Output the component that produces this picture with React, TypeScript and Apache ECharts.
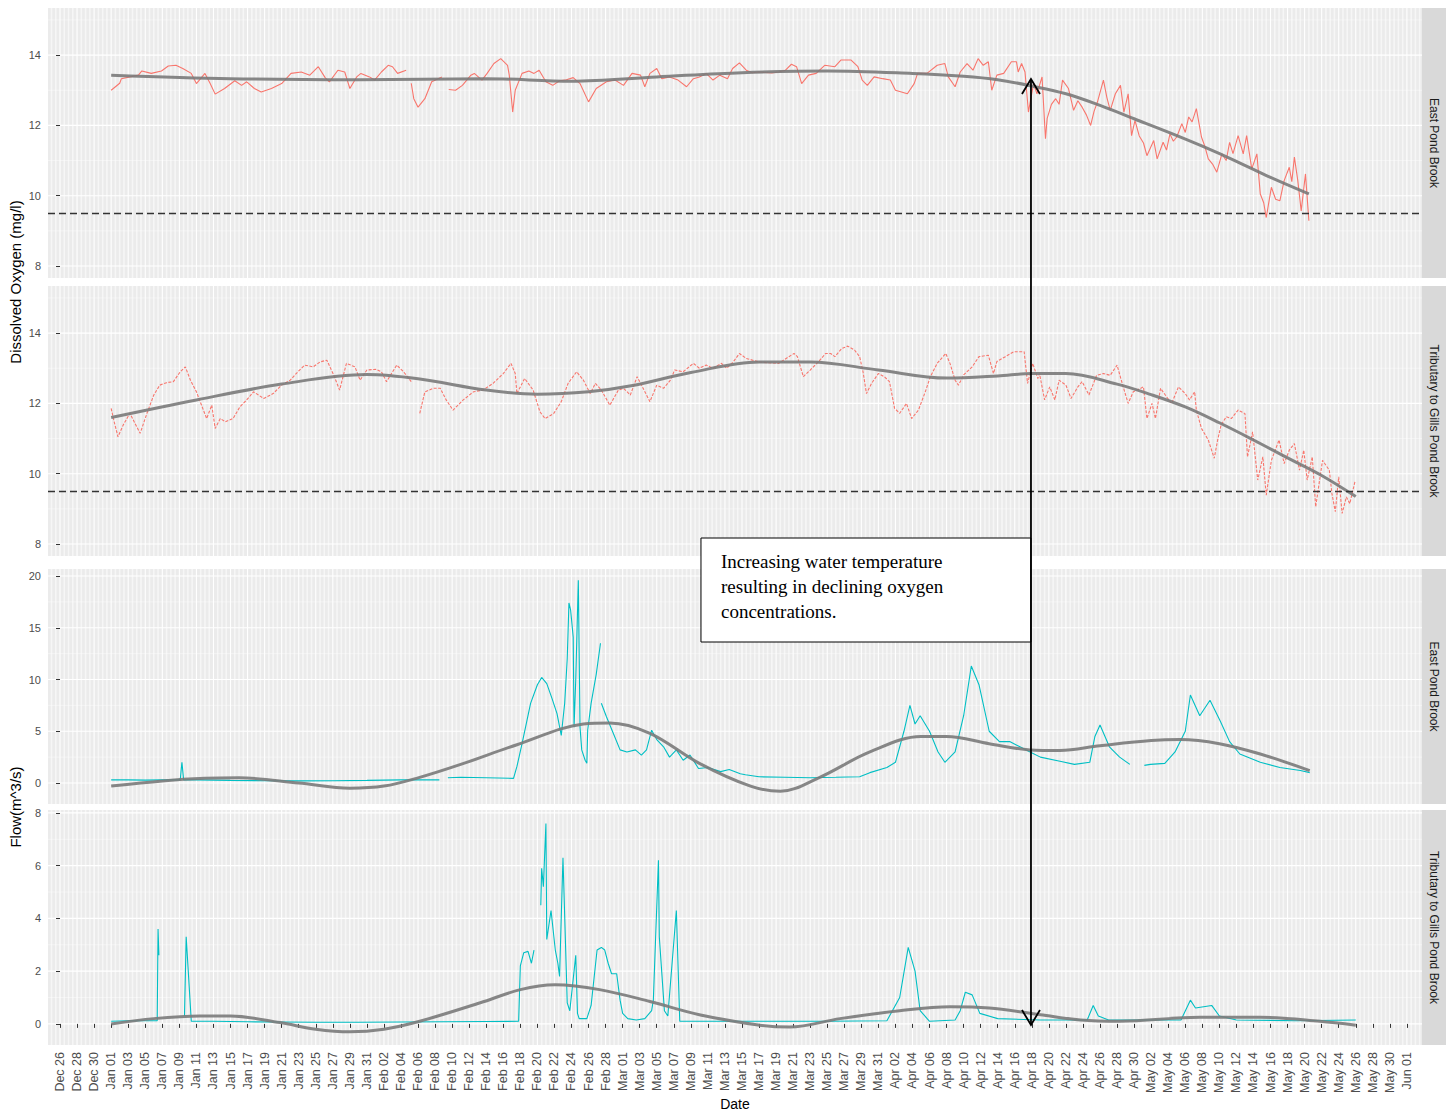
import React, { useEffect, useRef } from 'react';
import * as echarts from 'echarts';

// x values are day offsets counted from 2019-12-26
const DATE_ORIGIN = Date.UTC(2019, 11, 26);
const MONTH_NAMES = ['Jan', 'Feb', 'Mar', 'Apr', 'May', 'Jun', 'Jul', 'Aug', 'Sep', 'Oct', 'Nov', 'Dec'];

const X_MIN = -1.41;
const X_MAX = 159.77;

// tick positions (every 2 days from Dec 26 to Jun 01)
const dateTickDays: number[] = Array.from({ length: 80 }, (_, i) => i * 2);
const minorGridDays: number[] = Array.from({ length: 322 }, (_, i) => -1 + i * 0.5).filter((d) => d % 2 !== 0);

const doTicks = [8, 10, 12, 14];
const doMinor = [9, 11, 13, 15];
const epbFlowTicks = [0, 5, 10, 15, 20];
const epbFlowMinor = [2.5, 7.5, 12.5, 17.5];
const tgpFlowTicks = [0, 2, 4, 6, 8];
const tgpFlowMinor = [1, 3, 5, 7];

const stripLabels = ['East Pond Brook', 'Tributary to Gills Pond Brook', 'East Pond Brook', 'Tributary to Gills Pond Brook'];
const doThreshold = 9.5;

// East Pond Brook dissolved oxygen (mg/l)
const epbDo: (number | null)[][] = [
  [6, 13.0], [7, 13.2], [7.2, 13.33], [8.2, 13.38], [9.2, 13.43], [9.6, 13.55], [10.7, 13.48], [11.9, 13.55], [12.7, 13.69], [13.6, 13.71],
  [14.4, 13.62], [15.4, 13.48], [16, 13.19], [17, 13.48], [17.6, 13.2], [18.2, 12.89], [19.3, 13.05], [20.5, 13.27], [21.3, 13.14], [21.9, 13.24],
  [22.8, 13.05], [23.6, 12.95], [24.8, 13.05], [26, 13.19], [27.1, 13.48], [28.3, 13.52], [29.3, 13.43], [30.3, 13.67], [31.1, 13.36], [31.6, 13.24],
  [32.6, 13.57], [33.4, 13.52], [34, 13.05], [34.8, 13.38], [35.3, 13.48], [36.3, 13.38], [36.9, 13.29], [37.7, 13.52], [38.5, 13.71], [39, 13.67],
  [39.6, 13.48], [40.6, 13.57], [40.9, null], [41.2, 13.2], [41.5, 12.76], [42, 12.52], [42.8, 12.76], [43.6, 13.24], [44.8, 13.38], [45.2, null],
  [45.6, 13.02], [46.4, 13.0], [47.2, 13.14], [48.2, 13.43], [48.6, 13.48], [49.5, 13.29], [50.1, 13.48], [50.9, 13.76], [51.7, 13.9], [52.5, 13.71],
  [52.7, 13.43], [53.1, 12.38], [53.4, 13.0], [54.2, 13.48], [55, 13.55], [55.6, 13.48], [56.2, 13.57], [57, 13.24], [57.8, 13.14], [58.6, 13.27],
  [59.4, 13.3], [60.2, 13.36], [61, 13.19], [62, 12.67], [62.9, 13.05], [64.1, 13.24], [65.1, 13.29], [66.1, 13.14], [67.1, 13.48], [68.1, 13.43],
  [68.6, 13.1], [69.2, 13.48], [70, 13.62], [70.6, 13.33], [71.5, 13.38], [72.5, 13.29], [73.5, 13.1], [74.3, 13.33], [75, 13.38], [75.8, 13.48],
  [76.6, 13.29], [77.4, 13.43], [78.3, 13.33], [78.9, 13.62], [79.7, 13.78], [80.5, 13.57], [81.2, 13.5], [82, 13.52], [83.5, 13.49], [84.3, 13.52],
  [85.1, 13.57], [85.8, 13.74], [86.4, 13.67], [87, 13.19], [87.8, 13.43], [88.7, 13.48], [89.7, 13.71], [90.9, 13.67], [91.6, 13.86], [92.8, 13.86],
  [93.6, 13.67], [94.1, 13.29], [94.7, 13.14], [95.5, 13.38], [96.5, 13.33], [97.4, 13.29], [98, 13.0], [98.7, 12.95], [99.4, 12.9], [100.2, 13.19],
  [100.6, 13.48], [101.7, 13.48], [102.9, 13.71], [103.8, 13.76], [104.2, 13.38], [105, 13.1], [105.6, 13.52], [106.4, 13.76], [107.1, 13.57], [107.7, 13.9],
  [108.3, 13.71], [108.9, 13.81], [109.3, 13.0], [109.9, 13.43], [110.7, 13.48], [111.6, 13.81], [112.2, 13.81], [112.4, 13.52], [112.8, 13.76], [113.2, 13.52],
  [113.6, 12.38], [114.2, 13.19], [114.6, 12.9], [115.2, 13.38], [115.6, 11.62], [115.8, 12.2], [116.3, 12.6], [116.8, 12.76], [117.2, 12.6], [117.6, 13.29],
  [118.3, 13.05], [118.9, 12.43], [119.4, 12.7], [119.9, 12.52], [120.4, 12.3], [120.9, 12.0], [121.3, 12.4], [121.7, 12.67], [122.4, 13.29], [122.8, 12.8],
  [123.2, 12.43], [123.8, 12.9], [124.4, 13.14], [124.8, 12.38], [125.3, 12.9], [125.7, 11.71], [126.1, 12.14], [126.6, 11.7], [127.1, 11.5], [127.5, 11.14],
  [128.3, 11.57], [128.7, 11.05], [129.4, 11.52], [129.8, 11.3], [130.2, 11.76], [130.6, 11.55], [131, 11.67], [131.6, 12.05], [132, 11.8], [132.4, 12.24],
  [132.8, 12.1], [133.3, 12.48], [133.9, 11.67], [134.3, 11.4], [134.7, 11.05], [135.2, 10.9], [135.7, 10.67], [136.3, 11.19], [136.8, 11.0], [137.2, 11.52],
  [137.6, 11.2], [138.2, 11.71], [138.8, 11.19], [139.2, 11.71], [139.8, 10.76], [140.4, 11.19], [140.8, 10.05], [141.2, 9.8], [141.5, 9.38], [142.1, 10.24],
  [142.6, 9.9], [143.1, 9.86], [143.6, 10.43], [144.2, 10.81], [144.5, 10.4], [144.8, 11.1], [145.2, 10.43], [145.6, 9.57], [146.1, 10.62], [146.5, 9.29],
];

// Tributary to Gills Pond Brook dissolved oxygen (mg/l)
const tgpDo: (number | null)[][] = [
  [6, 11.86], [6.3, 11.53], [6.8, 11.05], [7.4, 11.38], [8.2, 11.72], [8.8, 11.43], [9.4, 11.15], [10.2, 11.72], [11, 12.24], [11.7, 12.52],
  [12.5, 12.59], [13.3, 12.62], [14.1, 12.9], [14.7, 13.04], [15.3, 12.66], [16, 12.33], [16.6, 11.95], [17.2, 11.57], [17.8, 11.95], [18.2, 11.29],
  [18.8, 11.57], [19.4, 11.48], [20.3, 11.57], [21.1, 11.9], [21.9, 12.1], [22.7, 12.33], [23.9, 12.14], [25, 12.28], [26, 12.52], [27, 12.66],
  [27.9, 12.9], [28.7, 13.09], [29.7, 13.04], [30.5, 13.18], [31.3, 13.23], [32.1, 12.81], [32.8, 12.38], [33.6, 13.14], [34.6, 13.04], [35.2, 12.66],
  [36, 12.95], [37.1, 12.97], [37.7, 12.9], [38.3, 12.62], [39.5, 13.09], [40.3, 12.9], [41.2, 12.62], [41.6, null], [42.2, 11.72], [42.8, 12.33],
  [43.8, 12.43], [44.6, 12.43], [45.3, 12.1], [46.1, 11.81], [47.3, 12.1], [48.5, 12.33], [49.6, 12.38], [50.8, 12.57], [52, 12.85], [52.9, 13.14],
  [53.4, 12.85], [53.6, 12.28], [54.5, 12.71], [55.5, 12.38], [56.3, 11.76], [56.9, 11.57], [57.9, 11.71], [58.8, 12.05], [59.6, 12.57], [60.6, 12.9],
  [61.4, 12.66], [62.2, 12.28], [62.8, 12.57], [63.5, 12.38], [64.5, 11.95], [65.5, 12.38], [66.1, 12.43], [66.9, 12.24], [67.7, 12.76], [68.4, 12.43],
  [69.2, 12.05], [70, 12.52], [70.8, 12.43], [71.6, 12.66], [72.1, 12.95], [73.1, 12.9], [74.3, 13.14], [75, 13.0], [75.8, 13.09], [76.6, 13.0],
  [77.6, 13.14], [78.2, 13.0], [79, 13.19], [79.7, 13.42], [80.5, 13.28], [82, 13.18], [83.5, 13.15], [84.3, 13.14], [85.5, 13.33], [86.1, 13.42],
  [86.5, 13.33], [87.2, 12.76], [88, 12.95], [89, 13.19], [89.8, 13.42], [90.4, 13.42], [90.9, 13.33], [91.7, 13.56], [92.4, 13.63], [93.2, 13.52],
  [93.8, 13.33], [94.2, 12.9], [94.6, 12.28], [95.2, 12.57], [96, 12.85], [96.7, 12.76], [97.3, 12.62], [97.9, 11.86], [98.5, 11.72], [99.3, 12.0],
  [99.9, 11.57], [100.7, 11.81], [101.5, 12.33], [102.1, 12.76], [102.9, 13.14], [103.9, 13.42], [104.4, 13.14], [105, 12.66], [105.4, 12.52], [106, 12.81],
  [107, 13.04], [107.8, 13.33], [108.9, 13.37], [109.5, 12.85], [109.9, 13.19], [110.9, 13.33], [111.9, 13.47], [113.1, 13.47], [113.5, 12.57], [114.1, 13.14],
  [114.7, 12.71], [114.9, 12.85], [115.5, 12.1], [116.1, 12.47], [116.7, 12.1], [117.2, 12.66], [118, 12.52], [118.6, 12.14], [119.4, 12.47], [119.9, 12.62],
  [120.7, 12.24], [121.6, 12.8], [122.4, 12.85], [123.2, 12.8], [124, 13.09], [124.6, 12.57], [125.3, 12.0], [125.9, 12.33], [127.1, 12.47], [127.5, 11.57],
  [128.1, 12.0], [128.5, 11.57], [129.1, 12.43], [129.8, 12.19], [130.4, 12.0], [131.2, 12.47], [132, 12.28], [132.5, 12.1], [133.1, 12.33], [133.3, 11.81],
  [133.9, 11.29], [134.7, 10.96], [135.4, 10.44], [135.8, 10.96], [136.2, 11.38], [136.8, 11.62], [137.4, 11.57], [138.2, 11.81], [139, 11.71], [139.3, 10.48],
  [139.9, 11.19], [140.5, 9.82], [141.1, 10.48], [141.5, 9.39], [142.1, 10.38], [143, 10.96], [143.6, 10.29], [144.2, 10.67], [144.8, 10.86], [145.4, 10.1],
  [145.9, 10.67], [146.3, 9.82], [146.9, 10.48], [147.3, 9.06], [148.1, 10.38], [148.9, 10.1], [149.2, 9.44], [149.6, 8.92], [150, 9.91], [150.4, 8.87],
  [150.9, 9.34], [151.3, 9.15], [151.9, 9.77],
];

// East Pond Brook flow (m^3/s)
const epbFlow: (number | null)[][] = [
  [6, 0.3], [8, 0.3], [10, 0.28], [12, 0.3], [14.1, 0.3], [14.3, 2.0], [14.5, 0.3], [16, 0.3], [20, 0.25], [24, 0.22],
  [28, 0.2], [32, 0.22], [36, 0.25], [40, 0.3], [44.5, 0.3], [44.8, null], [45.5, 0.5], [47, 0.55], [50, 0.5], [53.2, 0.45],
  [53.6, 1.6], [54.2, 3.8], [55.2, 7.7], [56, 9.5], [56.5, 10.2], [57.1, 9.6], [57.7, 8.2], [58.3, 6.7], [58.8, 4.6], [59.2, 7.7],
  [59.5, 12], [59.7, 17.4], [59.9, 16.7], [60.2, 14.1], [60.3, 5.4], [60.5, 10], [60.8, 19.6], [61, 5.4], [61.2, 3.2], [61.6, 2.2],
  [61.8, 1.9], [61.9, 5.1], [62.3, 7.7], [62.9, 10.5], [63.4, 13.5], [63.45, null], [63.5, 7.7], [64.1, 6.4], [64.9, 4.8], [65.7, 3.2],
  [66.5, 3.0], [67.5, 3.2], [68.2, 2.7], [68.8, 3.2], [69.4, 5.1], [70, 4.2], [70.8, 3.5], [71.5, 2.5], [72.3, 3.2], [73.1, 2.2],
  [73.9, 2.7], [74.9, 1.4], [76, 1.5], [77.5, 1.1], [78.5, 1.3], [79.8, 0.9], [80.4, 0.8], [82, 0.6], [85, 0.55], [88, 0.5],
  [91, 0.55], [93.8, 0.6], [95, 1.0], [97, 1.5], [98, 2.0], [99, 5.0], [99.7, 7.5], [100.3, 5.7], [100.9, 6.5], [102, 5.0],
  [103, 3.0], [103.8, 2.0], [105, 3.0], [106, 6.5], [106.9, 11.3], [107.8, 9.5], [109, 5.0], [110.2, 4.0], [111.4, 4.0], [112.6, 3.5],
  [113.8, 3.0], [115, 2.5], [117.3, 2.1], [119, 1.8], [120.8, 2.0], [121.4, 4.5], [122, 5.6], [123.1, 3.5], [124.3, 2.5], [125.5, 1.8],
  [125.8, null], [127.2, 1.7], [127.9, 1.8], [129.6, 1.9], [130.8, 3.0], [132, 5.0], [132.6, 8.5], [133.7, 6.5], [134.9, 8.0], [136.1, 6.0],
  [137.2, 4.0], [138.4, 2.8], [140.8, 2.0], [143.1, 1.5], [145.5, 1.2], [146.6, 1.0],
];

// Tributary to Gills Pond Brook flow (m^3/s)
const tgpFlow: (number | null)[][] = [
  [6, 0.1], [8, 0.12], [10, 0.12], [11.4, 0.12], [11.5, 3.6], [11.6, 2.6], [11.7, null], [14.6, 0.3], [14.8, 3.3], [15.4, 0.1],
  [18, 0.1], [22, 0.08], [26, 0.07], [30, 0.06], [35, 0.06], [40, 0.07], [45, 0.08], [50, 0.09], [53.8, 0.1], [54, 2.2],
  [54.4, 2.7], [54.9, 2.75], [55.3, 2.3], [55.6, 2.8], [55.7, null], [56.4, 4.5], [56.5, 5.9], [56.7, 5.2], [57, 7.6], [57.1, 3.2],
  [57.6, 4.3], [58.1, 2.8], [58.4, 2.3], [58.6, 1.8], [59, 6.3], [59.2, 4.1], [59.5, 0.8], [59.8, 0.5], [60.5, 2.6], [60.7, 0.4],
  [60.9, 0.2], [61.8, 0.2], [62.3, 0.7], [63, 2.8], [63.5, 2.9], [63.9, 2.8], [64.3, 2.3], [64.7, 1.9], [65.3, 1.9], [65.7, 0.9],
  [66, 0.4], [66.6, 0.2], [67.6, 0.15], [68.6, 0.2], [69.4, 0.5], [69.6, 0.9], [70.2, 6.2], [70.3, 3.3], [70.9, 0.5], [71.3, 0.3],
  [72.3, 4.3], [72.7, 0.1], [74.7, 0.1], [80, 0.1], [90, 0.1], [97, 0.12], [98.5, 1.0], [99.5, 2.9], [100.3, 2.0], [100.9, 0.5],
  [102, 0.1], [105, 0.15], [105.6, 0.5], [106.2, 1.2], [107, 1.1], [107.9, 0.4], [110, 0.2], [115, 0.15], [120.5, 0.15], [121.2, 0.7],
  [121.8, 0.3], [123, 0.15], [131.5, 0.15], [132.6, 0.9], [133.2, 0.6], [135.1, 0.7], [136, 0.3], [138, 0.15], [145, 0.12], [152, 0.15],
];

// loess smooths
const epbDoSmooth = [
  [6, 13.43], [20, 13.33], [35, 13.3], [50, 13.33], [60, 13.26], [70, 13.38], [80, 13.5], [90, 13.55], [100, 13.48], [106, 13.4],
  [110, 13.3], [114, 13.12], [118, 12.9], [122, 12.57], [126, 12.19], [130, 11.81], [134, 11.41], [138, 10.98], [142, 10.52], [146.5, 10.05],
];
const tgpDoSmooth = [
  [6, 11.6], [16, 12.1], [26, 12.55], [36, 12.82], [42, 12.7], [50, 12.38], [56, 12.26], [62, 12.33], [67, 12.5], [74, 12.88],
  [82, 13.18], [88, 13.18], [96, 12.95], [104, 12.72], [110, 12.78], [114, 12.85], [118, 12.85], [124, 12.55], [128, 12.25], [132, 11.9],
  [136, 11.45], [140, 10.96], [144, 10.45], [148, 9.95], [152, 9.35],
];
const epbFlowSmooth = [
  [6, -0.3], [12, 0.2], [17, 0.45], [21, 0.5], [28, 0.0], [34, -0.5], [38, -0.3], [42, 0.5], [47, 1.8], [53.6, 3.7],
  [61.4, 5.7], [64.5, 5.8], [69.2, 4.8], [75, 1.9], [81, -0.3], [84.5, -0.8], [89, 0.5], [95, 3.0], [101, 4.5], [104, 4.5],
  [109, 3.8], [113.8, 3.2], [117.3, 3.15], [122, 3.6], [128, 4.1], [131.4, 4.2], [136, 3.8], [140.8, 2.8], [146.6, 1.2],
];
const tgpFlowSmooth = [
  [6, 0.0], [11, 0.2], [16.4, 0.3], [20, 0.3], [25.8, 0.05], [30, -0.2], [34, -0.3], [38, -0.2], [42.2, 0.1], [49.3, 0.8],
  [54, 1.3], [58.1, 1.48], [63.3, 1.3], [69.2, 0.85], [75, 0.35], [82.1, -0.05], [85.6, -0.12], [91.5, 0.2], [98.5, 0.5], [104.4, 0.65],
  [109, 0.6], [115, 0.35], [119.7, 0.15], [124.3, 0.1], [133.7, 0.25], [140.8, 0.25], [147.8, 0.1], [152, -0.05],
];

// annotation anchor (Apr 18) in data units
const arrowDay = 113.9;
const arrowTopValue = 13.32;
const arrowBottomValue = -0.04;
const annotationLines = ['Increasing water temperature', 'resulting in declining oxygen', 'concentrations.'];

const RED = '#F8766D';
const CYAN = '#00BFC4';
const FONT = '"Liberation Sans", Arial, sans-serif';

const PANEL_LEFT = 48;
const PANEL_WIDTH = 1374;
const STRIP_WIDTH = 24;

const panels = [
  { top: 8, height: 270, min: 7.66, max: 15.34, ticks: doTicks, minor: doMinor, raw: epbDo, smooth: epbDoSmooth, color: RED, dash: 'solid', threshold: true },
  { top: 286, height: 270, min: 7.66, max: 15.34, ticks: doTicks, minor: doMinor, raw: tgpDo, smooth: tgpDoSmooth, color: RED, dash: [3, 1.5], threshold: true },
  { top: 569, height: 235, min: -2.03, max: 20.68, ticks: epbFlowTicks, minor: epbFlowMinor, raw: epbFlow, smooth: epbFlowSmooth, color: CYAN, dash: 'solid', threshold: false },
  { top: 810, height: 235, min: -0.8, max: 8.11, ticks: tgpFlowTicks, minor: tgpFlowMinor, raw: tgpFlow, smooth: tgpFlowSmooth, color: CYAN, dash: 'solid', threshold: false },
];

function dayLabel(v: number): string {
  const d = new Date(DATE_ORIGIN + Math.round(v) * 86400000);
  return `${MONTH_NAMES[d.getUTCMonth()]} ${String(d.getUTCDate()).padStart(2, '0')}`;
}

function gridLineData(p: typeof panels[number]) {
  const midY = (p.min + p.max) / 2;
  const midX = (X_MIN + X_MAX) / 2;
  const out: number[][] = [];
  minorGridDays.forEach((d) => out.push([d, midY, 0, 0]));
  dateTickDays.forEach((d) => out.push([d, midY, 0, 1]));
  p.minor.forEach((v) => out.push([midX, v, 1, 0]));
  p.ticks.forEach((v) => out.push([midX, v, 1, 1]));
  return out;
}

function buildOption() {
  const grid: any[] = [];
  const xAxis: any[] = [];
  const yAxis: any[] = [];
  const series: any[] = [];
  panels.forEach((p, i) => {
    const isBottom = i === panels.length - 1;
    grid.push({
      left: PANEL_LEFT, top: p.top, width: PANEL_WIDTH, height: p.height,
      show: true, backgroundColor: '#EBEBEB', borderWidth: 0, containLabel: false, outerBoundsMode: 'none',
    });
    xAxis.push({
      type: 'value', gridIndex: i, min: X_MIN, max: X_MAX,
      axisLine: { show: false }, splitLine: { show: false }, minorSplitLine: { show: false },
      axisTick: { show: isBottom, customValues: dateTickDays, length: 4, lineStyle: { color: '#333333', width: 1 } },
      axisLabel: {
        show: isBottom, customValues: dateTickDays, rotate: 90, formatter: (v: number) => dayLabel(v),
        fontSize: 12.5, color: '#4D4D4D', margin: 7, fontFamily: FONT, hideOverlap: false,
      },
    });
    yAxis.push({
      type: 'value', gridIndex: i, min: p.min, max: p.max,
      axisLine: { show: false }, splitLine: { show: false }, minorSplitLine: { show: false },
      axisTick: { show: true, customValues: p.ticks, length: 4, lineStyle: { color: '#333333', width: 1 } },
      axisLabel: { customValues: p.ticks, fontSize: 11, color: '#4D4D4D', margin: 7, fontFamily: FONT },
    });
    series.push({
      type: 'custom', xAxisIndex: i, yAxisIndex: i, z: 0, silent: true,
      encode: { x: 0, y: 1 },
      data: gridLineData(p),
      renderItem: (params: any, api: any) => {
        const cs = params.coordSys;
        const pt = api.coord([api.value(0), api.value(1)]);
        const horiz = api.value(2) === 1;
        const major = api.value(3) === 1;
        const shape = horiz
          ? { x1: cs.x, y1: pt[1], x2: cs.x + cs.width, y2: pt[1] }
          : { x1: pt[0], y1: cs.y, x2: pt[0], y2: cs.y + cs.height };
        return {
          type: 'line', shape,
          style: {
            stroke: major ? '#FFFFFF' : horiz ? 'rgba(255,255,255,0.7)' : 'rgba(255,255,255,0.55)',
            lineWidth: major ? 1.1 : horiz ? 0.6 : 1.6,
          },
        };
      },
    });
    series.push({
      type: 'line', xAxisIndex: i, yAxisIndex: i, z: 2, silent: true,
      data: p.raw, showSymbol: false, connectNulls: false,
      lineStyle: { color: p.color, width: 1.1, type: p.dash },
      itemStyle: { color: p.color },
    });
    const smoothSeries: any = {
      type: 'line', xAxisIndex: i, yAxisIndex: i, z: 3, silent: true,
      data: p.smooth, showSymbol: false, smooth: 0.35,
      lineStyle: { color: '#7A7A7A', width: 3, opacity: 0.9 },
      itemStyle: { color: '#7A7A7A' },
    };
    if (p.threshold) {
      smoothSeries.markLine = {
        silent: true, symbol: 'none', label: { show: false },
        lineStyle: { color: '#333333', width: 1.3, type: [7, 4] },
        data: [{ yAxis: doThreshold }],
      };
    }
    series.push(smoothSeries);
  });
  return {
    animation: false,
    backgroundColor: '#FFFFFF',
    textStyle: { fontFamily: FONT },
    grid, xAxis, yAxis, series,
  };
}

function staticGraphics(): any[] {
  const els: any[] = [];
  panels.forEach((p, i) => {
    els.push({
      id: `strip-${i}`, type: 'rect', silent: true,
      shape: { x: PANEL_LEFT + PANEL_WIDTH, y: p.top, width: STRIP_WIDTH, height: p.height },
      style: { fill: '#D9D9D9' },
    });
    els.push({
      id: `strip-text-${i}`, type: 'text', silent: true,
      x: PANEL_LEFT + PANEL_WIDTH + STRIP_WIDTH / 2, y: p.top + p.height / 2, rotation: -Math.PI / 2,
      style: { text: stripLabels[i], fill: '#1A1A1A', font: `12px ${FONT}`, align: 'center', verticalAlign: 'middle' },
    });
  });
  els.push({
    id: 'y-title-do', type: 'text', silent: true, x: 15, y: (panels[0].top + panels[1].top + panels[1].height) / 2, rotation: Math.PI / 2,
    style: { text: 'Dissolved Oxygen (mg/l)', fill: '#000000', font: `15px ${FONT}`, align: 'center', verticalAlign: 'middle' },
  });
  els.push({
    id: 'y-title-flow', type: 'text', silent: true, x: 15, y: (panels[2].top + panels[3].top + panels[3].height) / 2, rotation: Math.PI / 2,
    style: { text: 'Flow(m^3/s)', fill: '#000000', font: `15px ${FONT}`, align: 'center', verticalAlign: 'middle' },
  });
  els.push({
    id: 'x-title', type: 'text', silent: true, x: PANEL_LEFT + PANEL_WIDTH / 2, y: 1104,
    style: { text: 'Date', fill: '#000000', font: `14px ${FONT}`, align: 'center', verticalAlign: 'middle' },
  });
  return els;
}

function annotationGraphics(top: number[], bottom: number[]): any[] {
  const x = top[0];
  const y1 = top[1];
  const y2 = bottom[1];
  const head = 15;
  const half = 9;
  const boxW = 330;
  const boxTop = 538;
  const boxH = 104;
  const els: any[] = [
    {
      id: 'note-box', type: 'rect', silent: true, z: 10,
      shape: { x: x - boxW, y: boxTop, width: boxW, height: boxH },
      style: { fill: '#FFFFFF', stroke: '#000000', lineWidth: 1 },
    },
  ];
  annotationLines.forEach((t, k) => {
    els.push({
      id: `note-text-${k}`, type: 'text', silent: true, z: 11,
      x: x - boxW + 20, y: boxTop + 23 + k * 25,
      style: { text: t, fill: '#000000', font: '19px "Liberation Serif", "Times New Roman", serif', align: 'left', verticalAlign: 'middle' },
    });
  });
  els.push({
    id: 'arrow-shaft', type: 'line', silent: true, z: 12,
    shape: { x1: x, y1, x2: x, y2 },
    style: { stroke: '#000000', lineWidth: 1.8 },
  });
  els.push({
    id: 'arrow-head-top', type: 'polyline', silent: true, z: 12,
    shape: { points: [[x - half, y1 + head], [x, y1], [x + half, y1 + head]] },
    style: { stroke: '#000000', lineWidth: 1.8, fill: 'none' },
  });
  els.push({
    id: 'arrow-head-bottom', type: 'polyline', silent: true, z: 12,
    shape: { points: [[x - half, y2 - head], [x, y2], [x + half, y2 - head]] },
    style: { stroke: '#000000', lineWidth: 1.8, fill: 'none' },
  });
  return els;
}

export default function App() {
  const ref = useRef<HTMLDivElement>(null);
  useEffect(() => {
    if (!ref.current) return;
    const chart = echarts.init(ref.current, null, { renderer: 'svg' });
    chart.setOption(buildOption());
    const top = chart.convertToPixel({ gridIndex: 0 } as any, [arrowDay, arrowTopValue]) as unknown as number[];
    const bottom = chart.convertToPixel({ gridIndex: 3 } as any, [arrowDay, arrowBottomValue]) as unknown as number[];
    chart.setOption({ graphic: { elements: [...staticGraphics(), ...annotationGraphics(top, bottom)] } });
    return () => chart.dispose();
  }, []);
  return (
    <div
      ref={ref}
      style={{ position: 'fixed', left: 0, top: 0, width: 1450, height: 1112, background: '#FFFFFF' }}
    />
  );
}
